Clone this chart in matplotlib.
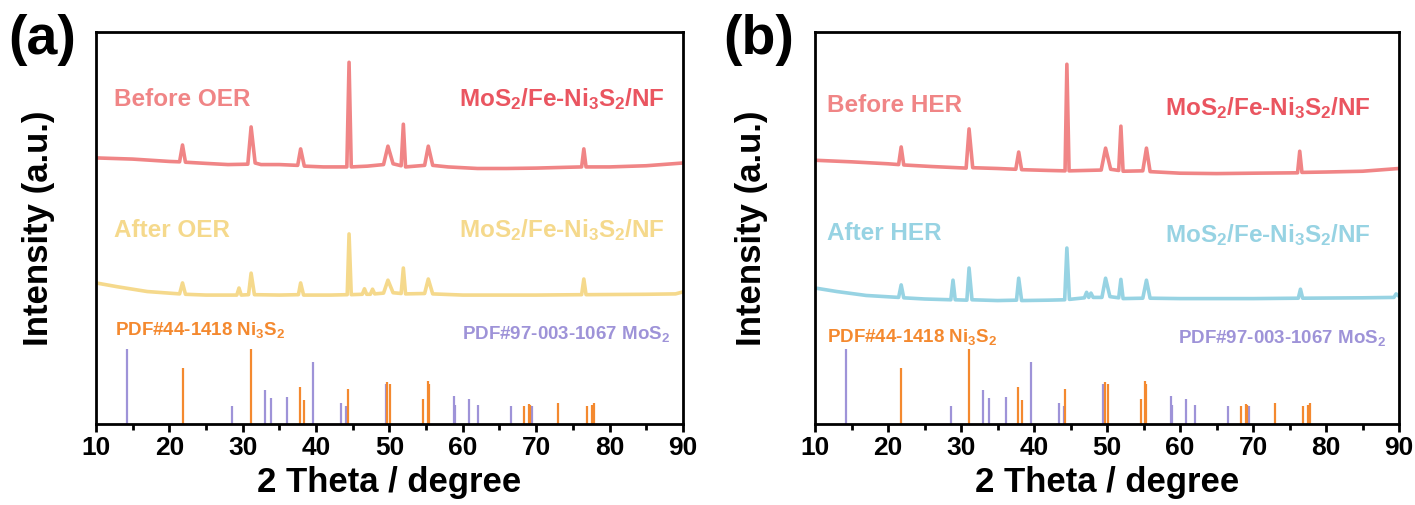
import matplotlib
matplotlib.use("Agg")
import matplotlib.pyplot as plt

plt.rcParams['font.family'] = ['Liberation Sans', 'DejaVu Sans']
plt.rcParams['font.weight'] = 'bold'
plt.rcParams['axes.labelweight'] = 'bold'
plt.rcParams['mathtext.default'] = 'regular'

# XRD patterns, 2 theta (deg) vs intensity (a.u., stacked offsets included)
before_oer_x = [10, 15, 20, 21.4, 21.8, 22.2, 25, 28, 30.7, 31.15, 31.7, 32.5, 35, 37.5, 37.9, 38.4,
                41, 44.2, 44.5, 44.8, 47, 49.2, 49.8, 50.5, 51.6, 51.9, 52.2, 54.8, 55.3, 55.9,
                58, 62, 66, 70, 74, 76.2, 76.5, 76.8, 80, 85, 90]
before_oer_y = [67.9, 67.6, 67.0, 66.9, 71.2, 66.8, 66.5, 66.2, 66.3, 75.8, 66.6, 66.2, 66.2, 66.0, 70.2, 65.8,
                65.6, 65.6, 92.3, 65.6, 65.8, 66.2, 70.9, 66.4, 65.9, 76.5, 65.6, 66.0, 70.9, 66.0,
                65.6, 65.2, 65.2, 65.3, 65.5, 65.6, 70.2, 65.6, 65.6, 65.9, 66.6]

after_oer_x = [10, 13, 17, 21.4, 21.8, 22.2, 25, 29.2, 29.5, 29.8, 30.8, 31.15, 31.6, 35, 37.6, 37.9, 38.3,
               42, 44.25, 44.5, 44.8, 46.3, 46.6, 46.9, 47.4, 47.7, 48.0, 49.2, 49.8, 50.5, 51.6, 51.9, 52.2,
               54.8, 55.3, 55.9, 60, 70, 76.2, 76.5, 76.8, 85, 89, 90]
after_oer_y = [36.0, 35.0, 33.8, 33.2, 36.0, 33.1, 32.9, 32.9, 34.7, 32.9, 33.0, 38.5, 33.0, 32.9, 33.0, 36.0, 32.9,
               32.9, 33.0, 48.5, 33.0, 33.1, 34.5, 33.1, 33.1, 34.4, 33.2, 33.4, 36.7, 33.5, 33.3, 39.8, 33.2,
               33.3, 37.0, 33.2, 32.9, 32.9, 33.0, 37.0, 33.0, 33.1, 33.2, 33.7]

before_her_x = [10, 15, 20, 21.45, 21.8, 22.15, 26, 30.7, 31.1, 31.6, 35, 37.5, 37.9, 38.3, 42, 44.25, 44.5,
                44.8, 47, 49.2, 49.8, 50.5, 51.6, 51.9, 52.2, 54.9, 55.4, 55.9, 60, 65, 70, 76.1, 76.4,
                76.7, 80, 85, 90]
before_her_y = [67.3, 66.9, 66.4, 66.2, 70.7, 66.1, 65.7, 65.3, 75.3, 65.4, 65.2, 65.0, 69.4, 64.9, 64.7, 64.6, 91.8,
                64.6, 64.7, 64.8, 70.4, 65.0, 64.7, 76.0, 64.5, 64.6, 70.4, 64.4, 64.0, 63.9, 64.0, 64.1, 69.6,
                64.2, 64.3, 64.5, 65.2]

after_her_x = [10, 13, 17, 21.45, 21.8, 22.15, 25, 28.6, 28.9, 29.2, 30.8, 31.1, 31.5, 35, 37.6, 37.9, 38.3,
               42, 44.2, 44.5, 44.85, 46.9, 47.2, 47.5, 47.8, 48.1, 49.3, 49.8, 50.4, 51.6, 51.9, 52.2,
               54.9, 55.4, 55.9, 60, 70, 76.2, 76.5, 76.8, 85, 89.3, 89.6, 90]
after_her_y = [34.7, 33.8, 32.8, 32.3, 35.5, 32.2, 31.9, 31.7, 36.7, 31.7, 31.6, 39.8, 31.7, 31.5, 31.6, 37.2, 31.5,
               31.6, 31.7, 44.9, 31.8, 32.2, 33.6, 32.3, 33.4, 32.3, 32.3, 37.2, 32.5, 32.2, 36.9, 32.0,
               32.1, 36.7, 32.1, 32.0, 32.0, 32.1, 34.4, 32.1, 32.2, 32.3, 33.2, 32.6]

# reference patterns (relative intensity, %)
mos2_pos = [14.2, 28.6, 33.0, 33.8, 36.1, 39.6, 43.4, 44.1, 49.5, 58.8, 58.95, 60.8, 62.1, 66.6, 69.4]
mos2_int = [100, 24, 45, 35, 36, 83, 28, 24, 53, 38, 25, 33, 25, 24, 24]
ni3s2_pos = [21.8, 31.1, 37.8, 38.3, 44.3, 49.7, 50.1, 54.6, 55.2, 55.4, 68.3, 69.0, 69.2, 73.0, 76.9, 77.6, 77.85]
ni3s2_int = [75, 100, 49, 32, 47, 56, 53, 33, 58, 53, 24, 27, 26, 28, 24, 26, 28]

sample_label = r'MoS$_2$/Fe-Ni$_3$S$_2$/NF'
stick_scale = 0.191

RED = '#F08586'
RED_TXT = '#EA5560'
YELLOW = '#F5D98C'
BLUE = '#97D3E3'
ORANGE = '#F4892F'
PURPLE = '#9E93D8'


def panel(ax, before_x, before_y, after_x, after_y, after_color, reaction, txt_y, txt_x):
    ax.plot(before_x, before_y, color=RED, lw=2.6)
    ax.plot(after_x, after_y, color=after_color, lw=2.6)
    ax.vlines(mos2_pos, 0, [v * stick_scale for v in mos2_int], color=PURPLE, lw=1.6)
    ax.vlines(ni3s2_pos, 0, [v * stick_scale for v in ni3s2_int], color=ORANGE, lw=1.6)

    left, right = txt_x
    ax.text(left, txt_y[0], 'Before ' + reaction, color=RED, fontsize=17.5, va='center', ha='left')
    ax.text(right, txt_y[1], sample_label, color=RED_TXT, fontsize=17.5, va='center', ha='right')
    ax.text(left, txt_y[2], 'After ' + reaction, color=after_color, fontsize=17.5, va='center', ha='left')
    ax.text(right, txt_y[3], sample_label, color=after_color, fontsize=17.5, va='center', ha='right')
    ax.text(left + 0.1, txt_y[4], r'PDF#44-1418 Ni$_3$S$_2$', color=ORANGE, fontsize=13.5,
            va='center', ha='left')
    ax.text(88.2, txt_y[5], r'PDF#97-003-1067 MoS$_2$', color=PURPLE, fontsize=13.5, va='center', ha='right')

    ax.set_xlim(10, 90)
    ax.set_ylim(0, 100)
    ax.set_xticks(range(10, 91, 10))
    ax.set_xticks(range(15, 90, 10), minor=True)
    ax.set_yticks([])
    ax.tick_params(axis='x', which='major', direction='out', length=6, width=2, labelsize=19, pad=3)
    ax.tick_params(axis='x', which='minor', direction='out', length=4, width=2)
    for s in ax.spines.values():
        s.set_linewidth(2)
    ax.set_xlabel('2 Theta / degree', fontsize=25)
    ax.set_ylabel('Intensity (a.u.)', fontsize=25)
    ax.xaxis.set_label_coords(0.5, -0.15)
    ax.xaxis.label.set_va('center')


fig = plt.figure(figsize=(14.15, 5.05), dpi=100)
ax1 = fig.add_axes([0.0678, 0.1604, 0.4148, 0.776])
ax2 = fig.add_axes([0.576, 0.1604, 0.4127, 0.776])

panel(ax1, before_oer_x, before_oer_y, after_oer_x, after_oer_y, YELLOW, 'OER',
      [82.8, 82.8, 49.5, 49.5, 24.0, 23.0], (12.5, 87.6))
panel(ax2, before_her_x, before_her_y, after_her_x, after_her_y, BLUE, 'HER',
      [81.2, 80.5, 48.7, 48.2, 22.2, 21.9], (11.6, 86.1))
ax1.yaxis.set_label_coords(-0.07, 0.5)
ax2.yaxis.set_label_coords(-0.08, 0.5)

fig.text(0.030, 0.921, '(a)', fontsize=40, ha='center', va='center')
fig.text(0.536, 0.921, '(b)', fontsize=40, ha='center', va='center')

fig.savefig('out.png', dpi=100)
